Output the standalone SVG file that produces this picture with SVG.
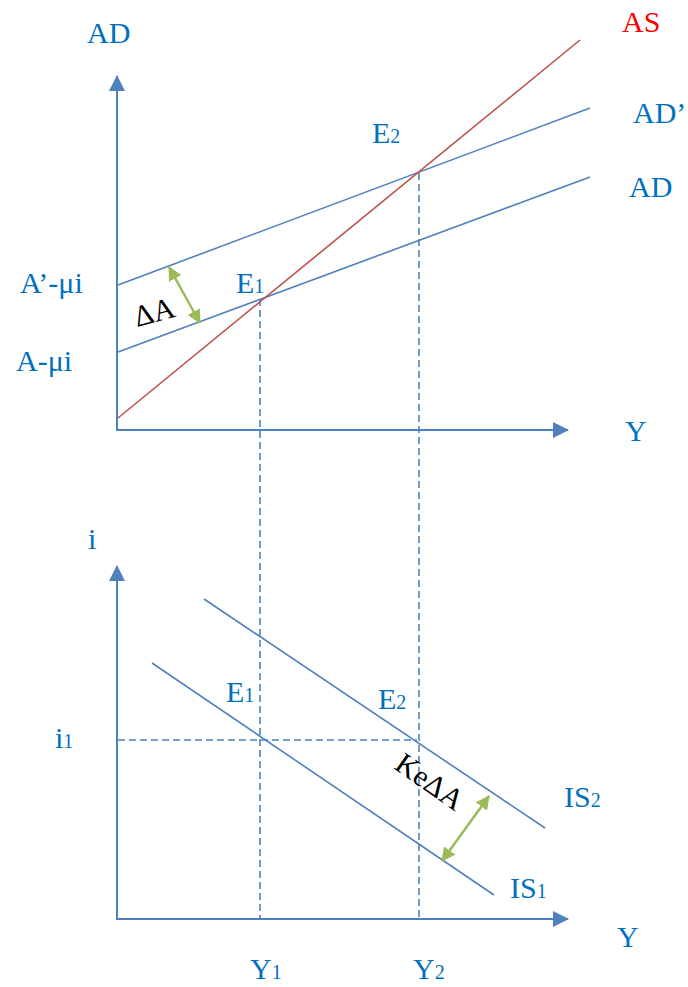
<svg xmlns="http://www.w3.org/2000/svg" width="688" height="987" viewBox="0 0 688 987">
<style>
.lbl{font-family:"Liberation Serif","Times New Roman",serif;font-size:30px;fill:#0070C0}
.sub{font-size:20px}
.blk{fill:#000}
.red{fill:#FF0000}
.ax{stroke:#4F81BD;stroke-width:2;fill:none}
.ln{stroke:#4F81BD;stroke-width:1.6;fill:none}
.dash{stroke:#4F81BD;stroke-width:1.6;stroke-dasharray:7 4;fill:none}
.grn{stroke:#9BBB59;stroke-width:2.5;fill:none}
</style>
<defs>
<marker id="ah" markerUnits="userSpaceOnUse" markerWidth="16" markerHeight="16" viewBox="0 0 16 16" refX="15" refY="8" orient="auto">
<path d="M0,0 L16,8 L0,16 Z" fill="#4F81BD"/>
</marker>
<marker id="gh" markerUnits="userSpaceOnUse" markerWidth="14" markerHeight="14" viewBox="0 0 14 14" refX="13" refY="7" orient="auto-start-reverse">
<path d="M0,0 L14,7 L0,14 Z" fill="#9BBB59"/>
</marker>
</defs>
<g id="connectors">
<line class="ax" x1="117" y1="431" x2="117" y2="76" marker-end="url(#ah)"/>
<line class="ax" x1="116" y1="430" x2="568" y2="430" marker-end="url(#ah)"/>
<line class="ax" x1="117" y1="919" x2="117" y2="566" marker-end="url(#ah)"/>
<line class="ax" x1="116" y1="919" x2="568" y2="919" marker-end="url(#ah)"/>
<line class="ln" x1="118" y1="285" x2="590" y2="108"/>
<line class="ln" x1="118" y1="352" x2="590" y2="177"/>
<line x1="118" y1="418" x2="580" y2="40" stroke="#C0504D" stroke-width="1.6"/>
<line class="dash" x1="260" y1="299" x2="260" y2="918"/>
<line class="dash" x1="419" y1="173" x2="419" y2="918"/>
<line class="dash" x1="118" y1="740" x2="417" y2="740"/>
<line class="ln" x1="152" y1="663" x2="494" y2="895"/>
<line class="ln" x1="204" y1="599" x2="545" y2="828"/>
<line class="grn" x1="169" y1="267" x2="200" y2="323" marker-start="url(#gh)" marker-end="url(#gh)"/>
<line class="grn" x1="489" y1="796" x2="442" y2="861" marker-start="url(#gh)" marker-end="url(#gh)"/>
</g>
<g id="top-labels">
<text class="lbl" x="87" y="43">AD</text>
<text class="lbl red" x="622" y="32">AS</text>
<text class="lbl" x="633" y="123">AD’</text>
<text class="lbl" x="629" y="197">AD</text>
<text class="lbl" x="372" y="143">E<tspan class="sub">2</tspan></text>
<text class="lbl" x="236" y="293">E<tspan class="sub">1</tspan></text>
<text class="lbl" x="20" y="293">A’-μi</text>
<text class="lbl" x="16" y="371">A-μi</text>
<text class="lbl" x="625" y="441">Y</text>
<text class="lbl blk" x="0" y="0" transform="translate(137,327) rotate(-15)">ΔA</text>
</g>
<g id="bottom-labels">
<text class="lbl" x="88" y="549">i</text>
<text class="lbl" x="55" y="748">i<tspan class="sub">1</tspan></text>
<text class="lbl" x="226" y="702">E<tspan class="sub">1</tspan></text>
<text class="lbl" x="378" y="709">E<tspan class="sub">2</tspan></text>
<text class="lbl" x="564" y="807">IS<tspan class="sub">2</tspan></text>
<text class="lbl" x="510" y="898">IS<tspan class="sub">1</tspan></text>
<text class="lbl" x="617" y="947">Y</text>
<text class="lbl" x="250" y="979">Y<tspan class="sub">1</tspan></text>
<text class="lbl" x="413" y="979">Y<tspan class="sub">2</tspan></text>
<text class="lbl blk" x="0" y="0" transform="translate(393,768) rotate(35)">KeΔA</text>
</g>
</svg>
